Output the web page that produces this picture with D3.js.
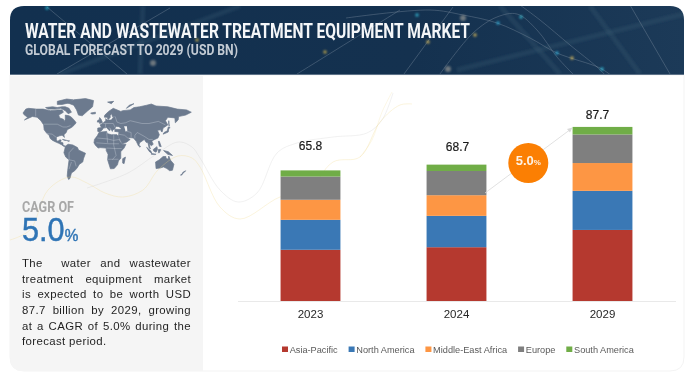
<!DOCTYPE html>
<html><head><meta charset="utf-8">
<script src="https://cdn.jsdelivr.net/npm/d3@7"></script>
<style>html,body{margin:0;padding:0;background:#fff;overflow:hidden}svg{display:block;filter:blur(0.3px)}</style>
</head><body><svg id="c" width="692" height="378"></svg>
<script>
const years = ["2023","2024","2029"];
const totals = [65.8,68.7,87.7];
const seriesNames = ["Asia-Pacific","North America","Middle-East Africa","Europe","South America"];
const asiaPacific = [25.8,27.1,35.8];
const northAmerica = [15.1,15.8,19.7];
const middleEastAfrica = [10.1,10.4,14.0];
const europe = [11.7,12.2,14.4];
const southAmerica = [3.1,3.2,3.8];
const seriesColors = ["#b5392f","#3a78b5","#fd9644","#7f7f7f","#70ad47"];
const titleText = "WATER AND WASTEWATER TREATMENT EQUIPMENT MARKET";
const subtitleText = "GLOBAL FORECAST TO 2029 (USD BN)";
const bodyLines = ["The  water and wastewater","treatment equipment market","is expected to be worth USD","87.7 billion by 2029, growing","at a CAGR of 5.0% during the"];
const bodyLast = "forecast period.";

// rough land outlines, [lon, lat]
const land = [
 [[-168,65],[-162,70],[-156,71],[-140,70],[-125,70],[-110,68],[-95,69],[-85,69],[-82,66],[-92,62],[-90,58],[-82,56],[-80,53],[-78,56],[-78,62],[-70,61],[-65,59],[-58,54],[-55,51],[-60,47],[-65,44],[-70,42],[-74,40],[-76,35],[-81,31],[-80,26],[-82,28],[-85,30],[-90,29],[-97,27],[-97,21],[-94,18],[-90,21],[-87,21],[-88,16],[-83,15],[-83,10],[-78,8],[-81,7.5],[-86,11],[-92,14],[-97,16],[-105,20],[-110,24],[-113,31],[-117,33],[-123,40],[-124,48],[-130,54],[-138,59],[-148,60],[-155,58],[-165,55],[-158,59],[-165,62]],
 [[-120,72],[-105,73],[-95,72],[-85,73],[-78,73],[-70,71],[-65,66],[-72,64],[-78,68],[-88,71],[-100,70],[-115,70]],
 [[-95,80],[-75,83],[-62,82],[-70,78],[-85,76],[-95,76]],
 [[-73,78],[-60,82],[-35,83.5],[-18,81],[-20,73],[-30,68],[-42,61],[-50,62],[-54,69],[-60,75]],
 [[-24,65],[-14,66],[-14,64],[-22,63.5]],
 [[-78,8],[-72,12],[-62,10.5],[-52,5],[-50,0],[-35,-6],[-39,-15],[-41,-22],[-48,-26],[-53,-33],[-58,-38],[-65,-42],[-68,-52],[-71,-54],[-74,-48],[-73,-38],[-70,-18],[-77,-13],[-81,-5],[-79,2]],
 [[-6,35.5],[10,37],[11,33],[20,31],[32,31],[35,28],[37,20],[43,12],[51,12],[47,4],[40,-3],[40,-15],[35,-20],[33,-27],[26,-34],[18,-34.5],[12,-18],[13,-8],[9,-1],[9,4],[-4,5],[-8,4],[-14,10],[-17,15],[-16,22],[-10,29]],
 [[44,-16],[50,-13],[47,-25],[44,-24]],
 [[-9,37],[-9,43],[-1,44],[-4,48],[3,51],[8,54],[8,57],[11,55],[20,55],[24,59],[30,60],[22,60],[21,64],[17,61],[18,59],[13,55.5],[11,59],[5,59],[6,62],[14,67],[24,71],[40,67],[44,68],[60,69],[68,72],[80,73],[95,75],[105,76.5],[115,74],[140,73],[160,70],[180,69],[190,66],[178,62],[163,60],[162,55],[156,51],[155,58],[140,59],[135,54],[140,48],[130,43],[128,36],[126,37],[125,40],[118,39],[122,31],[119,25],[110,21],[106,18],[109,12],[105,9],[100,13],[103,2],[100,5],[98,15],[94,16],[90,22],[80,15],[78,8],[73,18],[67,25],[57,26],[56,24],[60,22],[52,16],[43,13],[35,28],[36,36],[27,37],[28,41],[40,41],[37,45],[30,46],[27,41],[23,40],[22,37],[19,42],[13,45.5],[18,40],[16,38],[10,44],[3,43],[0,39],[-5,36]],
 [[-5,50],[1,51.5],[-2,56],[-5,58.5],[-6,55]],
 [[-10,52],[-6,52],[-6,55],[-9,54.5]],
 [[130,32],[136,34],[141,36],[142,42],[145,44],[141,45],[139,38],[132,35]],
 [[95,5.5],[104,-2],[106,-6],[101,-3]],
 [[105,-6.5],[115,-8],[105,-7.8]],
 [[109,1],[117,7],[118,1],[115,-4],[110,-2]],
 [[131,-1],[141,-3],[150,-10],[140,-8]],
 [[120,18],[122,18],[126,7],[122,8]],
 [[120,1],[125,1],[122,-5],[120,-5]],
 [[114,-22],[122,-18],[130,-12],[136,-12],[136,-15],[141,-17],[142,-11],[146,-19],[153,-26],[150,-37],[144,-38],[138,-34],[131,-31],[124,-33],[115,-34]],
 [[172,-41],[178,-38],[175,-41],[167,-46],[170,-46]],
 [[12,79],[25,80],[20,77]],
 [[52,71],[68,77],[58,75]],
 [[-84,22],[-75,20],[-78,20]],
 [[-74,19.5],[-69,19],[-71,18]],
 [[142,54],[143,46],[142,50]],
 [[80,9.5],[82,7],[80,6]]
];
const inlandSeas = [
 [[47,46],[53,46],[54,38],[50,37],[49,41]],
 [[28,43],[35,45],[41,42],[35,41.5]]
];
const borders = [
 [[-124,49],[-95,49],[-83,45],[-75,45],[-67,47]],
 [[-141,70],[-141,60]],
 [[-117,33],[-106,32],[-97,26]],
 [[28,60],[32,52],[40,50],[50,51],[60,54],[85,50],[100,50],[120,53],[135,48]],
 [[75,35],[90,28],[100,22],[108,22]],
 [[50,38],[62,35],[62,26]],[[75,35],[70,30],[70,24]],
 [[-70,-18],[-58,-20],[-55,-30]],[[-70,-18],[-70,-5],[-60,5]],[[-70,-35],[-65,-22]],
 [[-10,25],[12,23],[25,20],[37,22]],[[-12,15],[15,13],[36,13]],[[25,31],[25,10],[30,-10],[22,-18]],[[10,4],[30,3],[42,3]],[[13,-17],[35,-17]],[[10,35],[12,15]],
 [[35,32],[48,30],[56,24]],[[3,50],[15,50],[24,50],[28,44]],[[7,44],[8,50]]
];
const greyWave = [[87,188],[128,173],[155,155],[178,142],[192,147],[200,158],[220,190],[238,202],[257,193],[277,153],[297,143],[333,137],[367,133],[382,120],[393,93]];
const yellowWaveA = [[10,240],[30,230],[48,190],[70,177],[87,183],[105,193],[123,197],[143,190],[158,170],[178,156],[192,158],[200,167],[220,207],[240,219],[280,197],[307,192],[333,162],[360,157],[380,122],[400,105],[412,104]];
const yellowWaveB = [[360,157],[372,140],[382,112],[392,92]];

const svg = d3.select("#c");
const defs = svg.append("defs");
const g = defs.append("linearGradient").attr("id","bn");
g.append("stop").attr("offset","0").attr("stop-color","#12304f");
g.append("stop").attr("offset","0.6").attr("stop-color","#14314f");
g.append("stop").attr("offset","1").attr("stop-color","#1c3a58");
const blur = defs.append("filter").attr("id","bl").attr("x","-100%").attr("y","-100%").attr("width","300%").attr("height","300%");
blur.append("feGaussianBlur").attr("stdDeviation",1.1);
const soft = defs.append("filter").attr("id","soft");
soft.append("feGaussianBlur").attr("stdDeviation",0.25);
const bannerShape = "M10,74V20Q10,6 24,6H670Q684,6 684,20V74Z";
defs.append("clipPath").attr("id","bc").append("path").attr("d",bannerShape);

// card and side panel
svg.append("path").attr("d","M10,75H684V357Q684,371 670,371H24Q10,371 10,357Z").attr("fill","#fff").attr("stroke","#f3f3f3");
svg.append("path").attr("d","M10,76H203V371H24Q10,371 10,357Z").attr("fill","#f5f5f5");

// banner
svg.append("path").attr("d",bannerShape).attr("fill","url(#bn)");
const bn = svg.append("g").attr("clip-path","url(#bc)");
const curve = d3.line().curve(d3.curveCatmullRom);
const wide = [[[143,6],[140,74]],[[60,74],[240,6]],[[457,70],[684,14]],[[500,6],[560,74]],[[590,6],[640,74]]];
wide.forEach(p=>bn.append("path").attr("d",curve(p)).attr("fill","none").attr("stroke","#3c5872").attr("stroke-opacity",.3).attr("stroke-width",5).attr("filter","url(#bl)"));
const fine = [
 [[440,74],[473,33],[497,17],[517,14],[537,30],[557,57],[573,74]],
 [[346,18],[430,10],[463,15],[497,23],[530,38],[557,53],[600,68],[612,76]],
 [[520,5],[540,20],[570,45],[597,67],[606,76]],
 [[630,5],[670,74]],
 [[47,7],[127,74]],
 [[57,74],[170,8]],
 [[297,74],[347,43],[400,10]],
 [[404,74],[453,7]]
];
fine.forEach(p=>bn.append("path").attr("d",curve(p)).attr("fill","none").attr("stroke","#7d8ea0").attr("stroke-opacity",.5).attr("stroke-width",.8));
const glints = [[47,8,"#27c3e0"],[498,23,"#2fb4e0"],[521,17,"#3cc3d8"],[557,53,"#2fb4e0"],[602,69,"#35c8e6"],[417,15,"#35c0dc"],[475,35,"#e6c25a"],[572,58,"#e6c25a"],[428,42,"#e6c25a"],[197,40,"#d9b84e"],[325,52,"#d9b84e"]];
bn.selectAll("circle.gl").data(glints).join("circle").attr("class","gl").attr("cx",d=>d[0]).attr("cy",d=>d[1]).attr("r",1.7).attr("fill",d=>d[2]).attr("opacity",.8).attr("filter","url(#bl)");
[[448,69],[153,63],[463,18]].forEach(d=>bn.append("circle").attr("cx",d[0]).attr("cy",d[1]).attr("r",3).attr("fill","#b8b2a6").attr("opacity",.55).attr("filter","url(#bl)"));
svg.append("line").attr("x1",10).attr("x2",684).attr("y1",74.5).attr("y2",74.5).attr("stroke","#5d7288");

svg.append("text").attr("x",25).attr("y",38).attr("textLength",445).attr("lengthAdjust","spacingAndGlyphs")
 .attr("font-family","'Liberation Sans Narrow','Roboto'").attr("font-weight",700).attr("font-size",20).attr("fill","#f4f6f8").text(titleText);
svg.append("text").attr("x",25).attr("y",55).attr("textLength",213).attr("lengthAdjust","spacingAndGlyphs")
 .attr("font-family","'Liberation Sans Narrow','Roboto'").attr("font-weight",700).attr("font-size",14).attr("fill","#c3cbd4").text(subtitleText);

// world map
const lonX = d3.scaleLinear().domain([-168,190]).range([23,191.3]);
const latY = d3.scaleLinear().domain([-55,0,25,45,65,83]).range([180,150,138,127,113,99]);
const geo = d3.line().x(d=>lonX(d[0])).y(d=>latY(d[1]));
const mapG = svg.append("g").attr("filter","url(#soft)");
land.forEach(p=>mapG.append("path").attr("d",geo(p)+"Z").attr("fill","#6c7a8e").attr("stroke","#6c7a8e").attr("stroke-width",.7).attr("stroke-linejoin","round"));
inlandSeas.forEach(p=>mapG.append("path").attr("d",geo(p)+"Z").attr("fill","#f5f5f5"));
borders.forEach(p=>mapG.append("path").attr("d",geo(p)).attr("fill","none").attr("stroke","#c5ccd6").attr("stroke-width",.4));

// background waves
const wave = d3.line().curve(d3.curveCatmullRom.alpha(.5));
const waveG = svg.append("g").attr("fill","none").attr("stroke-width",.7);

// left text
svg.append("text").attr("x",22).attr("y",212).attr("textLength",52).attr("lengthAdjust","spacingAndGlyphs").attr("font-family","'Liberation Sans Narrow','Roboto'").attr("font-weight",700).attr("font-size",15).attr("fill","#a8a8a8").text("CAGR OF");
const big = svg.append("text").attr("transform","translate(22,241) scale(.93,1)").attr("font-family","'Liberation Sans','Roboto'").attr("fill","#2f74b5").attr("stroke","#2f74b5").attr("stroke-width",.45);
big.append("tspan").attr("font-size",33).text("5.0");
big.append("tspan").attr("font-size",16.5).text("%");
const bodyLeft = 22, bodyRight = 191, bodyTop = 267, leading = 15.65;
const body = svg.append("g").attr("font-family","'Liberation Sans'").attr("font-size",11.4).attr("letter-spacing",.38).attr("fill","#1f1f1f");
bodyLines.forEach((t,i)=>{
  const el = body.append("text").attr("x",bodyLeft).attr("y",bodyTop+i*leading).attr("xml:space","preserve").style("white-space","pre").text(t);
  const gaps = t.split(" ").length-1;
  const extra = (bodyRight-bodyLeft-el.node().getComputedTextLength())/gaps;
  el.attr("word-spacing",extra);
});
body.append("text").attr("x",bodyLeft).attr("y",bodyTop+bodyLines.length*leading).text(bodyLast);

// chart
const x = d3.scaleBand().domain(years).range([237.5,675.5]).paddingInner(.59).paddingOuter(.295);
const y = d3.scaleLinear().domain([0,100]).range([301,102.5]);
const valuesBySeries = [asiaPacific,northAmerica,middleEastAfrica,europe,southAmerica];
const rows = years.map((yr,i)=>{const r={year:yr};seriesNames.forEach((s,j)=>r[s]=valuesBySeries[j][i]);return r;});
const stacked = d3.stack().keys(seriesNames)(rows);
const color = d3.scaleOrdinal().domain(seriesNames).range(seriesColors);
svg.append("g").selectAll("g").data(stacked).join("g").attr("fill",d=>color(d.key))
  .selectAll("rect").data(d=>d).join("rect")
  .attr("x",d=>x(d.data.year)).attr("width",x.bandwidth())
  .attr("y",d=>y(d[1])).attr("height",d=>y(d[0])-y(d[1]));

waveG.append("path").attr("d",wave(greyWave)).attr("stroke","#bdbdbd").attr("stroke-opacity",.3);
waveG.append("path").attr("d",wave(yellowWaveA)).attr("stroke","#f2d98a").attr("stroke-opacity",.42);
waveG.append("path").attr("d",wave(yellowWaveB)).attr("stroke","#f2d98a").attr("stroke-opacity",.3);

const axis = svg.append("g").attr("transform","translate(0,301)").call(d3.axisBottom(x).tickSize(0).tickPadding(9));
axis.select(".domain").attr("stroke","#e9e9e9");
axis.selectAll("text").attr("font-family","'Liberation Sans'").attr("font-size",11.5).attr("fill","#262626");

const totalGaps = [20,14,8];
const totalShift = [0,1,-5];
svg.append("g").selectAll("text").data(totals).join("text")
  .attr("x",(d,i)=>x(years[i])+x.bandwidth()/2+totalShift[i]).attr("y",(d,i)=>y(d)-totalGaps[i])
  .attr("text-anchor","middle").attr("font-family","'Liberation Sans'").attr("font-size",12).attr("fill","#1a1a1a").attr("stroke","#1a1a1a").attr("stroke-width",.2).text(d=>d.toFixed(1));

// CAGR arrow and bubble
svg.append("line").attr("x1",485).attr("y1",193).attr("x2",571).attr("y2",129).attr("stroke","#d9d9d9").attr("stroke-width",.8);
svg.append("path").attr("d","M572.5,127.5L567,129L570,132.5Z").attr("fill","#d9d9d9");
svg.append("circle").attr("cx",528.3).attr("cy",163).attr("r",20).attr("fill","#fb7f03");
const bub = svg.append("text").attr("x",528.3).attr("y",164.5).attr("text-anchor","middle").attr("font-family","'Liberation Sans'").attr("font-weight",700).attr("fill","#fdf3e6");
bub.append("tspan").attr("font-size",13).text("5.0");
bub.append("tspan").attr("font-size",8).text("%");

// legend
let lx = 282;
const legend = svg.append("g").attr("font-family","'Liberation Sans'").attr("font-size",9.2).attr("fill","#5a5a5a");
seriesNames.forEach(n=>{
  legend.append("rect").attr("x",lx).attr("y",346.5).attr("width",6).attr("height",5.5).attr("fill",color(n));
  const t = legend.append("text").attr("x",lx+7.7).attr("y",352.6).text(n);
  lx += 7.7+t.node().getComputedTextLength()+10.9;
});
</script></body></html>
